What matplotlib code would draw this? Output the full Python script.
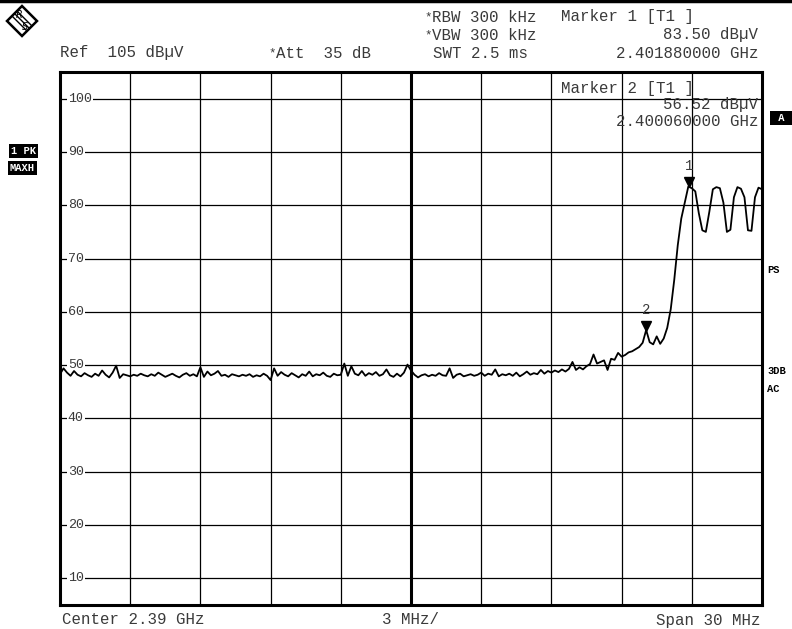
import numpy as np
import matplotlib
matplotlib.use("Agg")
import matplotlib.pyplot as plt
from matplotlib.patches import Polygon
from matplotlib.lines import Line2D

# ---------------- data ----------------
f_start_ghz = 2.375
f_stop_ghz = 2.405
ref_level = 105
bottom_level = 5
grid_levels = [100, 90, 80, 70, 60, 50, 40, 30, 20, 10]

trace_levels = [
    48.3, 49.4, 48.6, 48.0, 48.9, 48.2, 47.9, 48.5, 48.1, 47.8,
    48.4, 48.0, 49.0, 48.2, 47.7, 48.6, 49.9, 47.6, 48.3, 48.1,
    47.9, 48.2, 48.0, 48.4, 48.1, 47.9, 48.3, 48.0, 48.6, 48.2,
    47.8, 48.1, 48.4, 48.0, 47.7, 48.2, 48.5, 48.0, 48.3, 47.9,
    49.6, 47.8, 48.8, 48.1, 48.4, 48.9, 48.0, 48.2, 47.8, 48.3,
    48.1, 47.9, 48.2, 48.0, 48.3, 47.8, 48.1, 47.9, 48.4, 48.0,
    47.2, 49.4, 48.0, 48.7, 48.2, 47.9, 48.5, 48.1, 47.7, 48.3,
    48.0, 48.8, 47.9, 48.3, 48.1, 48.6, 48.0, 47.8, 48.4, 48.1,
    48.2, 50.3, 48.0, 49.8, 48.4, 48.1, 48.9, 48.0, 48.5, 48.2,
    48.7, 48.0, 48.3, 49.2, 48.1, 47.8, 48.4, 47.9, 48.6, 50.1,
    49.0, 48.2, 47.7, 48.1, 48.3, 47.9, 48.2, 48.0, 48.5, 48.1,
    48.0, 49.4, 47.6, 48.2, 48.4, 47.9, 48.1, 48.3, 48.0, 48.2,
    48.6, 48.0, 48.4, 48.2, 49.2, 47.9, 48.3, 48.1, 48.4, 48.0,
    48.6, 47.9, 48.3, 48.8, 48.2, 48.5, 48.3, 49.1, 48.4, 48.9,
    48.6, 49.0, 48.7, 49.2, 48.8, 49.3, 50.6, 49.1, 49.6, 49.2,
    49.8, 50.2, 52.0, 50.3, 50.6, 50.9, 49.1, 51.2, 51.0, 52.3,
    51.6, 51.9, 52.4, 52.6, 53.0, 53.4, 54.2, 56.6, 54.3, 53.9,
    55.4, 54.0, 55.0, 57.0, 60.5, 66.0, 72.5, 77.5, 80.5, 83.5,
    83.2, 82.6, 78.5, 75.3, 75.0, 78.8, 83.0, 83.4, 83.2, 80.5,
    75.0, 75.4, 81.5, 83.4, 83.1, 81.5, 75.3, 75.2, 81.5, 83.3,
    83.0,
]
trace_freqs = np.linspace(f_start_ghz, f_stop_ghz, len(trace_levels))

marker_ids = ["1", "2"]
marker_freqs = [2.40188, 2.40006]
marker_levels = [83.50, 56.52]

# ---------------- figure ----------------
W, H = 792, 629
fig = plt.figure(figsize=(W / 100, H / 100), dpi=100)
fig.patch.set_facecolor("white")

def fx(px):
    return px / W

def fy(py):
    return 1 - py / H

L, R, T, B = 60, 762, 72, 605
ax = fig.add_axes([fx(L), fy(B), (R - L) / W, (B - T) / H])
ax.set_xlim(f_start_ghz, f_stop_ghz)
ax.set_ylim(bottom_level, ref_level)
ax.set_xticks([])
ax.set_yticks([])
for s in ax.spines.values():
    s.set_linewidth(2.2)
    s.set_color("black")

mono = "Liberation Mono"
tcol = "#3a3a3a"

# grid
step = (f_stop_ghz - f_start_ghz) / 10
for k in range(1, 10):
    xv = f_start_ghz + k * step
    ax.axvline(xv, color="black", lw=2.2 if k == 5 else 0.9, zorder=1)
for lv in grid_levels:
    ax.axhline(lv, color="black", lw=0.9, zorder=1)
    ax.text(0.011, lv, str(lv), transform=ax.get_yaxis_transform(), fontsize=9.6,
            family=mono, color=tcol, va="center", ha="left", zorder=2,
            bbox=dict(facecolor="white", edgecolor="none", pad=0.6))

# trace
ax.plot(trace_freqs, trace_levels, color="black", lw=1.3, zorder=3)

# markers
for mid, mf, ml in zip(marker_ids, marker_freqs, marker_levels):
    ax.plot([mf], [ml + 0.9], marker="v", color="black", markersize=7, zorder=4,
            linestyle="none")
    ax.text(mf, ml + 2.6, mid, fontsize=10, family=mono, color=tcol,
            ha="center", va="bottom", zorder=4)

# marker 2 info inside box
fs = 11.3
fig.text(fx(561), fy(88), "Marker 2 [T1 ]", fontsize=fs, family=mono, color=tcol,
         va="center", ha="left")
fig.text(fx(758), fy(104), "56.52 dB\u00b5V", fontsize=fs, family=mono, color=tcol,
         va="center", ha="right")
fig.text(fx(758), fy(122), "2.400060000 GHz", fontsize=fs, family=mono, color=tcol,
         va="center", ha="right")

# header
fig.text(fx(424), fy(17), "*", fontsize=9, family=mono, color=tcol, va="center", ha="left")
fig.text(fx(432), fy(17), "RBW 300 kHz", fontsize=fs, family=mono, color=tcol, va="center")
fig.text(fx(561), fy(17), "Marker 1 [T1 ]", fontsize=fs, family=mono, color=tcol, va="center")
fig.text(fx(424), fy(35), "*", fontsize=9, family=mono, color=tcol, va="center", ha="left")
fig.text(fx(432), fy(35), "VBW 300 kHz", fontsize=fs, family=mono, color=tcol, va="center")
fig.text(fx(758), fy(35), "83.50 dB\u00b5V", fontsize=fs, family=mono, color=tcol,
         va="center", ha="right")
fig.text(fx(60), fy(53), "Ref  105 dB\u00b5V", fontsize=fs, family=mono, color=tcol, va="center")
fig.text(fx(268), fy(53), "*", fontsize=9, family=mono, color=tcol, va="center")
fig.text(fx(276), fy(53), "Att  35 dB", fontsize=fs, family=mono, color=tcol, va="center")
fig.text(fx(433), fy(53), "SWT 2.5 ms", fontsize=fs, family=mono, color=tcol, va="center")
fig.text(fx(758), fy(53), "2.401880000 GHz", fontsize=fs, family=mono, color=tcol,
         va="center", ha="right")

# footer
fig.text(fx(62), fy(620), "Center 2.39 GHz", fontsize=fs, family=mono, color=tcol, va="center")
fig.text(fx(411), fy(620), "3 MHz/", fontsize=fs, family=mono, color=tcol, va="center",
         ha="center")
fig.text(fx(760), fy(620), "Span 30 MHz", fontsize=fs, family=mono, color=tcol, va="center",
         ha="right")

# side labels (inverse boxes)
def inv_label(px, py, s):
    fig.text(fx(px), fy(py), s, fontsize=7.5, family=mono, weight="bold", color="white",
             va="center", ha="left",
             bbox=dict(facecolor="black", edgecolor="none", pad=1.2))

inv_label(11, 151, "1 PK")
inv_label(10, 168, "MAXH")
inv_label(772, 118, " A ")

for py, s in [(270, "PS"), (371, "3DB"), (389, "AC")]:
    fig.text(fx(767), fy(py), s, fontsize=7.5, family=mono, weight="bold", color="black",
             va="center", ha="left")

# top border line
fig.add_artist(Line2D([0, 1], [fy(1), fy(1)], color="black", lw=2.5, transform=fig.transFigure))

# R&S logo
cx, cy, r = 22, 21, 15
diamond = Polygon([(fx(cx), fy(cy - r)), (fx(cx + r), fy(cy)), (fx(cx), fy(cy + r)),
                   (fx(cx - r), fy(cy))], closed=True, facecolor="white",
                  edgecolor="black", lw=1.8, transform=fig.transFigure)
fig.add_artist(diamond)
for d in (-2.5, 0, 2.5):
    fig.add_artist(Line2D([fx(cx - r / 2 + d), fx(cx + r / 2 + d)],
                          [fy(cy - r / 2 - d), fy(cy + r / 2 - d)],
                          color="black", lw=1.0, transform=fig.transFigure))
fig.text(fx(cx - 3), fy(cy - 6), "R", fontsize=7, style="italic", color="black",
         ha="center", va="center")
fig.text(fx(cx + 3), fy(cy + 6), "S", fontsize=7, style="italic", color="black",
         ha="center", va="center")

fig.savefig("out.png", dpi=100, facecolor="white")
